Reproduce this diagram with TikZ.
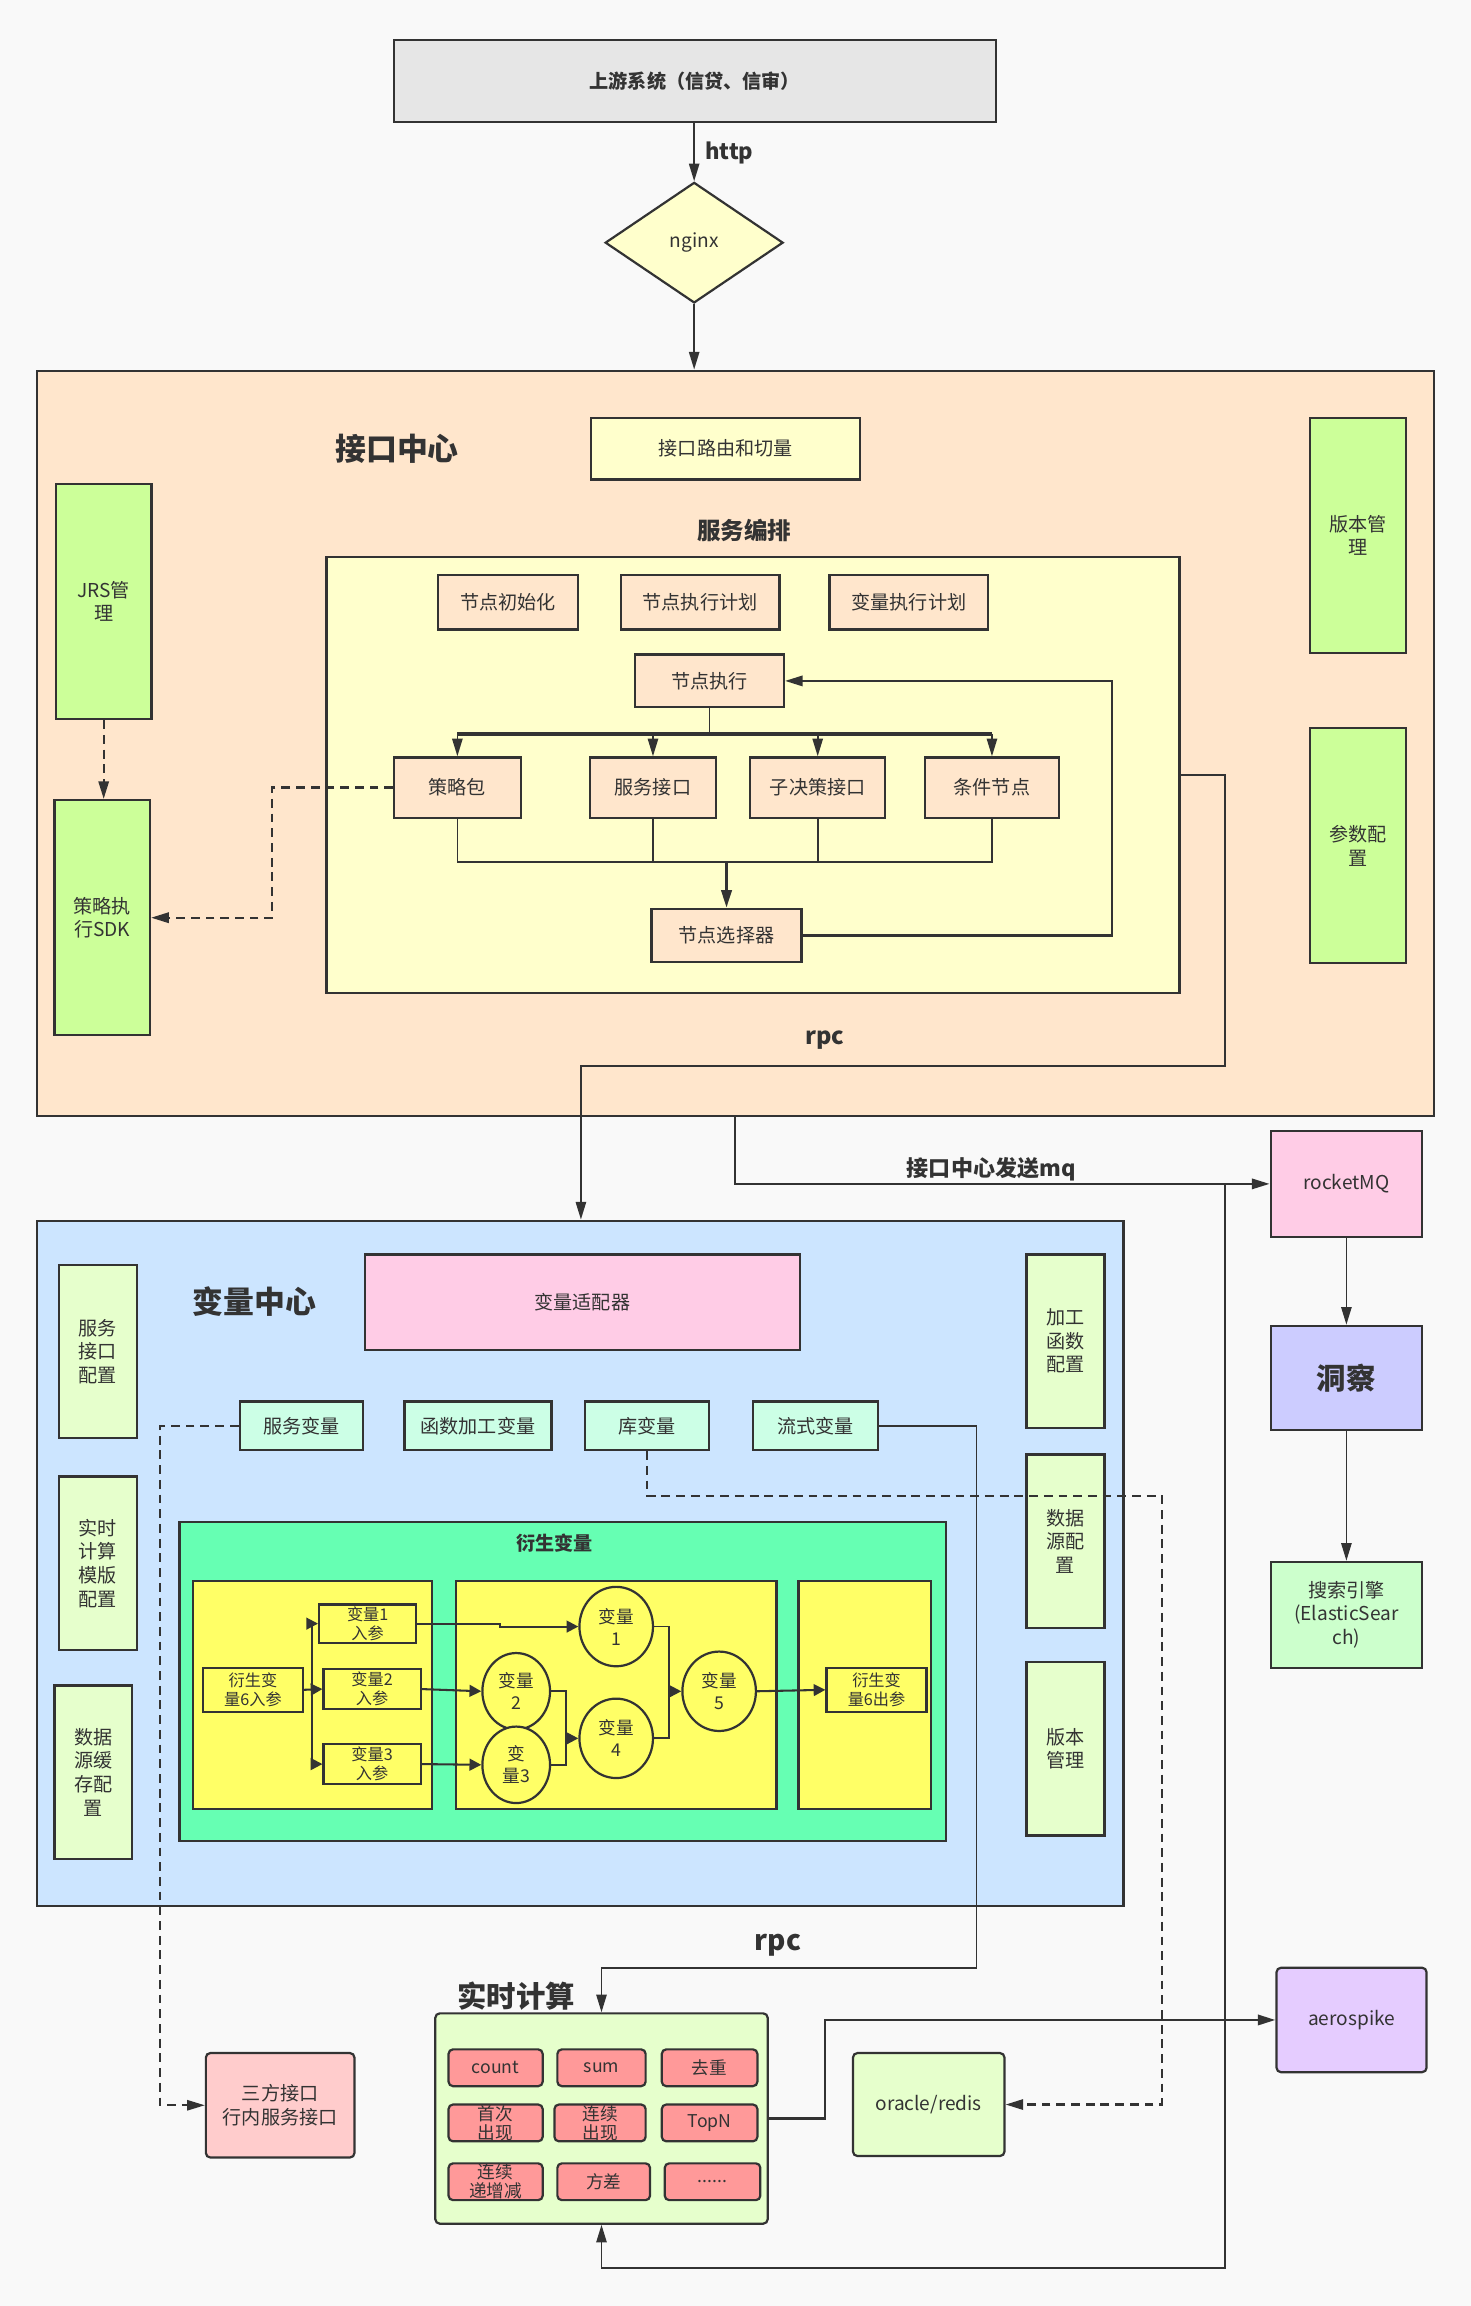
\documentclass[tikz,border=0pt]{standalone}
\usepackage{fontspec}
\setmainfont{Noto Sans CJK SC}
\usetikzlibrary{arrows.meta,shapes.geometric}
\definecolor{bgc}{HTML}{F9F9F9}
\definecolor{lc}{HTML}{333333}
\definecolor{cgray}{HTML}{E6E6E6}
\definecolor{cly}{HTML}{FFFFCC}
\definecolor{cpeach}{HTML}{FFE6CC}
\definecolor{cgreen}{HTML}{CCFF99}
\definecolor{cblue}{HTML}{CCE5FF}
\definecolor{cpink}{HTML}{FFCCE6}
\definecolor{clg}{HTML}{E6FFCC}
\definecolor{cmint}{HTML}{CCFFE6}
\definecolor{csea}{HTML}{66FFB3}
\definecolor{cyel}{HTML}{FFFF66}
\definecolor{csal}{HTML}{FF9999}
\definecolor{cpl}{HTML}{FFCCCC}
\definecolor{clav}{HTML}{E5CCFF}
\definecolor{cperi}{HTML}{CCCCFF}
\definecolor{csg}{HTML}{CCFFCC}
\newcommand\myfs[2]{\fontsize{#1}{#2}\selectfont}
\tikzset{
  bx/.style={draw=lc, line width=1.5pt, inner sep=1pt, align=center, text=lc, font=\myfs{13}{16}},
  rbx/.style={bx, rounded corners=3pt},
  arr/.style={draw=lc, line width=1.2pt, -{Triangle[length=12pt,width=7pt]}},
  sarr/.style={draw=lc, line width=1.4pt, -{Triangle[length=8pt,width=8pt]}},
  ln/.style={draw=lc, line width=1.2pt},
  dsh/.style={dash pattern=on 6pt off 4pt, line width=1.5pt},
  lbl/.style={font=\bfseries\myfs{15}{18}, text=lc},
  ttl/.style={font=\bfseries\myfs{21}{24}, text=lc},
}
\begin{document}
\begin{tikzpicture}[x=1pt,y=-1pt]
\fill[bgc] (0,0) rectangle (1000,1568);
\useasboundingbox (0,0) rectangle (1000,1568);

% ---------- top ----------
\node[bx, fill=cgray, minimum width=409, minimum height=56, font=\bfseries\myfs{13}{16}] (up) at (472.5,55) {上游系统（信贷、信审）};
\node[bx, fill=cly, diamond, minimum width=121, minimum height=82, inner sep=0pt] (ng) at (472,165) {nginx};
\draw[arr] (up.south -| ng.north) -- (ng.north);
\node[lbl, anchor=west] (http) at (476,104) {http};

% ---------- 接口中心 ----------
\node[bx, fill=cpeach, minimum width=950, minimum height=507] (jk) at (500,505.5) {};
\draw[arr] (ng.south) -- (ng.south |- jk.north);
\node[ttl] (jkt) at (270,305) {接口中心};
\node[bx, fill=cly, minimum width=183, minimum height=42] (route) at (493.5,305) {接口路由和切量};
\node[font=\bfseries\myfs{16}{19}, text=lc] (fwbp) at (506,361) {服务编排};
\node[bx, fill=cly, minimum width=580, minimum height=296] (inner) at (512,527) {};
\node[bx, fill=cgreen, minimum width=65, minimum height=160] (jrs) at (70.5,409) {JRS管\\理};
\node[bx, fill=cgreen, minimum width=65, minimum height=160] (sdk) at (69.5,624) {策略执\\行SDK};
\node[bx, fill=cgreen, minimum width=65, minimum height=160] (bb1) at (923.5,364) {版本管\\理};
\node[bx, fill=cgreen, minimum width=65, minimum height=160] (cs) at (923.5,575) {参数配\\置};

\node[bx, fill=cpeach, minimum width=95, minimum height=37] (init) at (345.5,409.5) {节点初始化};
\node[bx, fill=cpeach, minimum width=108, minimum height=37] (plan) at (476,409.5) {节点执行计划};
\node[bx, fill=cpeach, minimum width=108, minimum height=37] (vplan) at (618,409.5) {变量执行计划};
\node[bx, fill=cpeach, minimum width=101, minimum height=36] (jd) at (482.5,463) {节点执行};
\node[bx, fill=cpeach, minimum width=86, minimum height=41] (cl) at (311,535.5) {策略包};
\node[bx, fill=cpeach, minimum width=86, minimum height=41] (fw) at (444,535.5) {服务接口};
\node[bx, fill=cpeach, minimum width=92, minimum height=41] (zj) at (556,535.5) {子决策接口};
\node[bx, fill=cpeach, minimum width=91, minimum height=41] (tj) at (674.5,535.5) {条件节点};
\node[bx, fill=cpeach, minimum width=102, minimum height=36] (xz) at (494,636) {节点选择器};

\coordinate (busa) at (0,499);
\coordinate (busb) at (0,586);
\draw[ln] (jd.south) -- (jd.south |- busa);
\draw[draw=lc, line width=2.5pt] (cl.north |- busa) -- (tj.north |- busa);
\foreach \n in {cl,fw,zj,tj} {\draw[arr] (\n.north |- busa) -- (\n.north);}
\draw[ln] (cl.south) -- (cl.south |- busb) -- (tj.south |- busb) -- (tj.south);
\draw[ln] (fw.south) -- (fw.south |- busb);
\draw[ln] (zj.south) -- (zj.south |- busb);
\draw[arr, line width=2pt] (xz.north |- busb) -- (xz.north);
\coordinate (loopx) at (756,0);
\draw[arr, line width=1.6pt] (xz.east) -- (xz.east -| loopx) -- (jd.east -| loopx) -- (jd.east);
\coordinate (dashx) at (185,0);
\draw[arr, dsh] (cl.west) -- (cl.west -| dashx) -- (sdk.east -| dashx) -- (sdk.east);
\draw[arr, dsh] (jrs.south) -- (jrs.south |- sdk.north);

% ---------- 变量中心 ----------
\node[bx, fill=cblue, minimum width=739, minimum height=466] (bl) at (394.5,1063) {};
\coordinate (rpca) at (833,725);
\coordinate (rpcb) at (395,725);
\draw[arr] (inner.east) -- (inner.east -| rpca) -- (rpca) -- (rpcb) -- (rpcb |- bl.north);
\node[font=\bfseries\myfs{16}{19}, text=lc] (rpc1) at (561,707) {rpc};

\node[ttl] (blt) at (173,885) {变量中心};
\node[bx, fill=cpink, minimum width=296, minimum height=65] (adp) at (396,885.5) {变量适配器};
\node[bx, fill=clg, minimum width=53, minimum height=118] (c1) at (66.5,919) {服务\\接口\\配置};
\node[bx, fill=clg, minimum width=53, minimum height=118] (c2) at (66.5,1063) {实时\\计算\\模版\\配置};
\node[bx, fill=clg, minimum width=53, minimum height=118] (c3) at (63.5,1205) {数据\\源缓\\存配\\置};
\node[bx, fill=clg, minimum width=53, minimum height=118] (c4) at (724.5,912) {加工\\函数\\配置};
\node[bx, fill=clg, minimum width=53, minimum height=118] (c5) at (724.5,1048) {数据\\源配\\置};
\node[bx, fill=clg, minimum width=53, minimum height=118] (c6) at (724.5,1189) {版本\\管理};
\node[bx, fill=cmint, minimum width=84, minimum height=33] (fwbl) at (205,969.5) {服务变量};
\node[bx, fill=cmint, minimum width=100, minimum height=33] (hsbl) at (325,969.5) {函数加工变量};
\node[bx, fill=cmint, minimum width=84, minimum height=33] (kbl) at (440,969.5) {库变量};
\node[bx, fill=cmint, minimum width=85, minimum height=33] (lsbl) at (554.5,969.5) {流式变量};

% 衍生变量
\node[bx, fill=csea, minimum width=521, minimum height=217] (ys) at (382.5,1143.5) {};
\node[font=\bfseries\myfs{13}{16}, text=lc] (yst) at (377,1049) {衍生变量};
\node[bx, fill=cyel, minimum width=163, minimum height=155] (yl) at (212.5,1152.5) {};
\node[bx, fill=cyel, minimum width=218, minimum height=155] (ym) at (419,1152.5) {};
\node[bx, fill=cyel, minimum width=90, minimum height=155] (yr) at (588,1152.5) {};
\tikzset{sb/.style={bx, fill=cyel, font=\myfs{11}{13}, inner sep=0pt}}
\node[sb, minimum width=68, minimum height=30] (d6i) at (172,1149) {衍生变\\量6入参};
\node[sb, minimum width=66, minimum height=26] (v1i) at (250,1104) {变量1\\入参};
\node[sb, minimum width=66, minimum height=27] (v2i) at (253,1148.5) {变量2\\入参};
\node[sb, minimum width=66, minimum height=27] (v3i) at (253,1199.5) {变量3\\入参};
\node[sb, minimum width=68, minimum height=30] (d6o) at (596,1149) {衍生变\\量6出参};
\tikzset{el/.style={bx, ellipse, fill=cyel, font=\myfs{12}{15}, inner sep=0pt}}
\node[el, minimum width=50, minimum height=54] (v1) at (419,1106) {变量\\1};
\node[el, minimum width=46, minimum height=52] (v2) at (351,1150) {变量\\2};
\node[el, minimum width=46, minimum height=52] (v3) at (351,1200) {变\\量3};
\node[el, minimum width=50, minimum height=54] (v4) at (419,1182) {变量\\4};
\node[el, minimum width=50, minimum height=54] (v5) at (489,1150) {变量\\5};

\coordinate (vx) at (212,0);
\draw[ln] (v1i.west -| vx) -- (v3i.west -| vx);
\draw[sarr] (v1i.west -| vx) -- (v1i.west);
\draw[sarr] (d6i.east) -- (v2i.west);
\draw[sarr] (v3i.west -| vx) -- (v3i.west);
\coordinate (stp) at (340,0);
\draw[sarr] (v1i.east) -- (v1i.east -| stp) -- (v1.west -| stp) -- (v1.west);
\draw[sarr] (v2i.east) -- (v2.west);
\draw[sarr] (v3i.east) -- (v3.west);
\coordinate (j1) at (385,0);
\draw[ln] (v2.east) -- (v2.east -| j1) -- (v3.east -| j1) -- (v3.east);
\draw[sarr] (v4.west -| j1) -- (v4.west);
\coordinate (j2) at (455,0);
\draw[ln] (v1.east) -- (v1.east -| j2) -- (v4.east -| j2) -- (v4.east);
\draw[sarr] (v5.west -| j2) -- (v5.west);
\draw[sarr] (v5.east) -- (d6o.west);

% ---------- right column ----------
\node[bx, fill=cpink, minimum width=103, minimum height=72] (mq) at (915.5,805) {rocketMQ};
\node[bx, fill=cperi, minimum width=103, minimum height=71, font=\bfseries\myfs{20}{24}] (dc) at (915.5,937) {洞察};
\node[bx, fill=csg, minimum width=103, minimum height=72, font=\myfs{13}{16}] (es) at (915.5,1098) {搜索引擎\\(ElasticSear\\ch)};
\draw[arr, line width=1.5pt] (jk.south) -- (jk.south |- mq.west) -- (mq.west);
\node[lbl] (mqt) at (674,795) {接口中心发送mq};
\draw[arr] (mq.south) -- (dc.north);
\draw[arr] (dc.south) -- (es.north);

% ---------- bottom ----------
\node[font=\bfseries\myfs{20}{24}, text=lc] (sst) at (351,1357) {实时计算};
\node[rbx, fill=clg, minimum width=226, minimum height=143] (ss) at (409,1440.5) {};
\tikzset{fb/.style={rbx, fill=csal, minimum height=25, inner sep=0pt, font=\myfs{12}{13}}}
\node[fb, minimum width=64] (f1) at (337,1406) {count};
\node[fb, minimum width=60] (f2) at (409,1406) {sum};
\node[fb, minimum width=65] (f3) at (482.5,1406) {去重};
\node[fb, minimum width=64] (f4) at (337,1443.5) {首次\\出现};
\node[fb, minimum width=62] (f5) at (408,1443.5) {连续\\出现};
\node[fb, minimum width=65] (f6) at (482.5,1443.5) {TopN};
\node[fb, minimum width=64] (f7) at (337,1483.5) {连续\\递增减};
\node[fb, minimum width=63] (f8) at (410.5,1483.5) {方差};
\node[fb, minimum width=65] (f9) at (484.5,1483.5) {......};

\node[rbx, fill=clav, minimum width=102, minimum height=71] (aero) at (919,1373.5) {aerospike};
\node[rbx, fill=clg, minimum width=103, minimum height=70] (ora) at (631.5,1431) {oracle/redis};
\node[rbx, fill=cpl, minimum width=101, minimum height=71] (sf) at (190.5,1431.5) {三方接口\\行内服务接口};

\coordinate (lp) at (833,1542);
\draw[arr] (lp |- mq.west) -- (lp) -- (lp -| ss.south) -- (ss.south);

\coordinate (sfx) at (109,0);
\draw[arr, dsh, line width=1.2pt] (fwbl.west) -- (fwbl.west -| sfx) -- (sf.west -| sfx) -- (sf.west);
\coordinate (kba) at (440,1017);
\coordinate (kbb) at (790,1017);
\draw[arr, dsh] (kbl.south) -- (kba) -- (kbb) -- (kbb |- ora.east) -- (ora.east);
\coordinate (lsa) at (664,1338);
\draw[arr] (lsbl.east) -- (lsbl.east -| lsa) -- (lsa) -- (lsa -| ss.north) -- (ss.north);
\node[font=\bfseries\myfs{19}{22}, text=lc] (rpc2) at (529,1323) {rpc};
\coordinate (aex) at (561,0);
\draw[arr, line width=1.8pt] (ss.east) -- (ss.east -| aex) -- (aero.west -| aex) -- (aero.west);
\end{tikzpicture}
\end{document}
